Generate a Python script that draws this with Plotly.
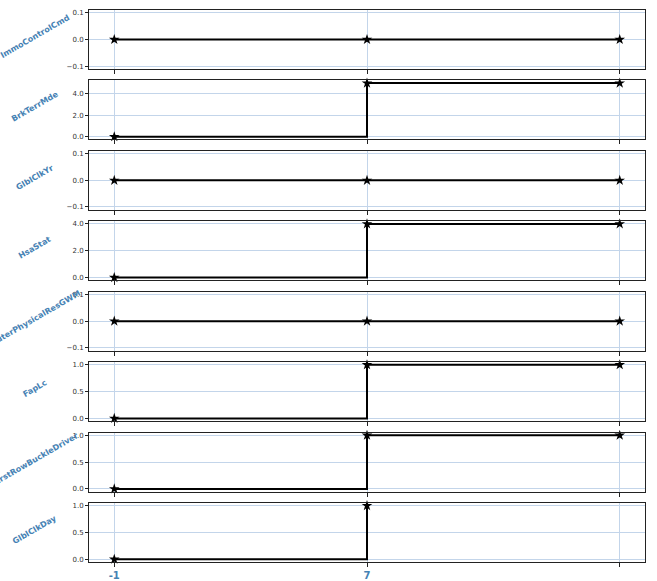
import plotly.graph_objects as go
from plotly.subplots import make_subplots

# ---- data ----
signal_names = ["ImmoControlCmd", "BrkTerrMde", "GlblClkYr", "HsaStat",
                "OuterPhysicalResGWM", "FapLc", "FirstRowBuckleDriver", "GlblClkDay"]
time_full = [-1, 7, 15]
time_short = [-1, 7]
immo_control_cmd = [0, 0, 0]
brk_terr_mde = [0, 5, 5]
glbl_clk_yr = [0, 0, 0]
hsa_stat = [0, 4, 4]
outer_phys_res = [0, 0, 0]
fap_lc = [0, 1, 1]
first_row_buckle = [0, 1, 1]
glbl_clk_day = [0, 1]
x_tick_vals = [-1, 7, 15]
x_tick_text = ["-1", "7", ""]

series = [
    (time_full, immo_control_cmd, [-0.1, 0.0, 0.1]),
    (time_full, brk_terr_mde, [0, 2, 4]),
    (time_full, glbl_clk_yr, [-0.1, 0.0, 0.1]),
    (time_full, hsa_stat, [0, 2, 4]),
    (time_full, outer_phys_res, [-0.1, 0.0, 0.1]),
    (time_full, fap_lc, [0, 0.5, 1.0]),
    (time_full, first_row_buckle, [0, 0.5, 1.0]),
    (time_short, glbl_clk_day, [0, 0.5, 1.0]),
]

n = len(series)
fig = make_subplots(rows=n, cols=1, shared_xaxes=True, vertical_spacing=0.0207)

GRID = "#c3d5ea"
LINE = "#222222"
LABEL = "#4682B4"

for i, (xs, ys, yticks) in enumerate(series, start=1):
    fig.add_trace(go.Scatter(
        x=xs, y=ys, mode="lines+markers", line=dict(color="black", width=2, shape="hv"),
        marker=dict(symbol="star", size=8, color="black"), showlegend=False,
        cliponaxis=False), row=i, col=1)
    lo, hi = min(ys), max(ys)
    if hi == lo:
        yr = [lo - 0.111, hi + 0.111]
    else:
        m = (hi - lo) * 0.05
        yr = [lo - m, hi + m]
    fig.update_yaxes(range=yr, tickvals=yticks, tickformat=".1f", showgrid=True,
                     gridcolor=GRID, gridwidth=1, zeroline=False,
                     showline=True, linecolor=LINE, linewidth=1, mirror=True,
                     ticks="outside", ticklen=3, tickcolor=LINE, automargin=False,
                     tickfont=dict(family="DejaVu Sans", size=7, color="#333333"),
                     row=i, col=1)
    fig.update_xaxes(range=[-1.8, 15.8], tickvals=x_tick_vals, ticktext=x_tick_text,
                     showgrid=True, gridcolor=GRID, gridwidth=1, zeroline=False,
                     showline=True, linecolor=LINE, linewidth=1, mirror=True,
                     ticks="outside", ticklen=4, tickcolor=LINE, automargin=False,
                     showticklabels=(i == n),
                     tickfont=dict(family="DejaVu Sans", size=10, color=LABEL, weight="bold"),
                     row=i, col=1)
    yref = "y domain" if i == 1 else f"y{i} domain"
    fig.add_annotation(text=signal_names[i - 1], xref="x domain", yref=yref,
                       x=-0.097, y=0.55, xanchor="center", yanchor="middle",
                       textangle=-30, showarrow=False,
                       font=dict(family="DejaVu Sans", size=8, color=LABEL, weight="bold"))

fig.update_layout(width=657, height=581, margin=dict(l=89, r=12, t=10, b=19),
                  plot_bgcolor="white", paper_bgcolor="white")

fig.write_html("out.html")
